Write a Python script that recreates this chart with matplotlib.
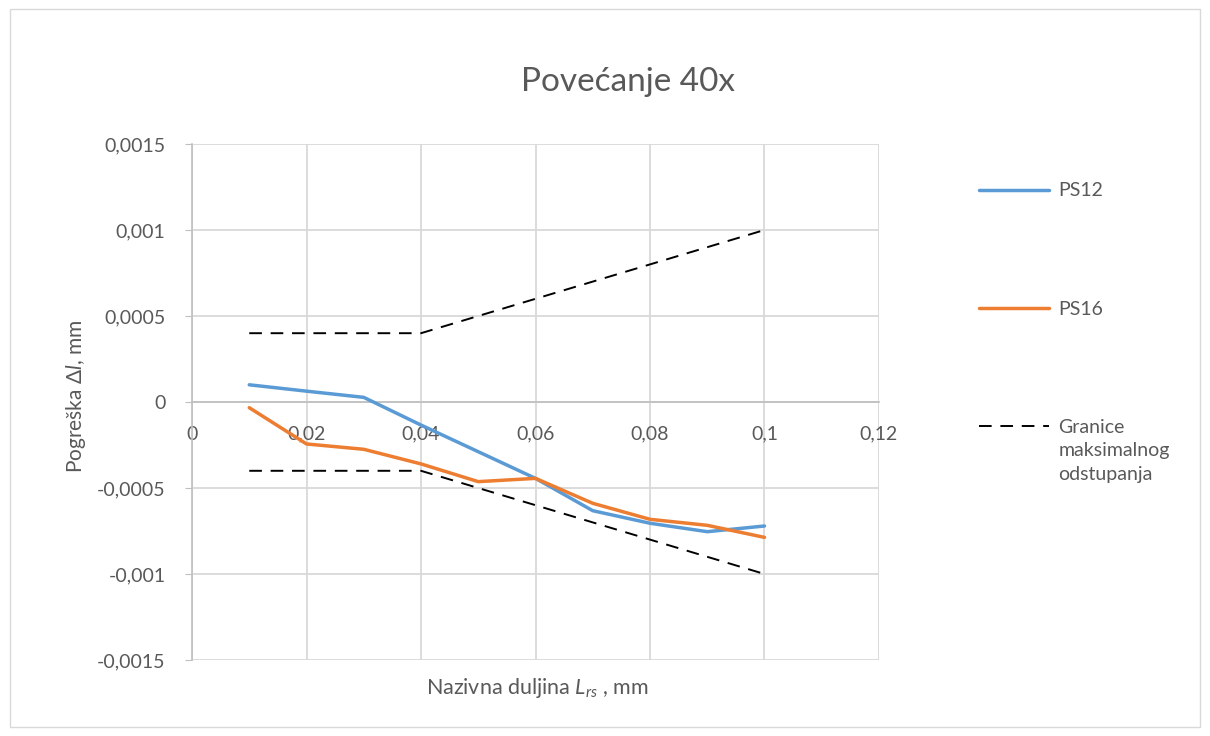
import matplotlib
matplotlib.use("Agg")
import matplotlib.pyplot as plt
from matplotlib.ticker import FuncFormatter, MultipleLocator
from matplotlib.patches import Rectangle

# ---- data ----
x_vals = [0.01, 0.02, 0.03, 0.04, 0.05, 0.06, 0.07, 0.08, 0.09, 0.1]
ps12 = [0.0001, 0.000063, 0.000027, -0.000134, -0.000289, -0.000444, -0.000632, -0.000705, -0.000754, -0.000721]
ps16 = [-0.000033, -0.000244, -0.000275, -0.00036, -0.000463, -0.000444, -0.000589, -0.000682, -0.000717, -0.000787]
limit_upper = [0.0004, 0.0004, 0.0004, 0.0004, 0.0005, 0.0006, 0.0007, 0.0008, 0.0009, 0.001]
limit_lower = [-0.0004, -0.0004, -0.0004, -0.0004, -0.0005, -0.0006, -0.0007, -0.0008, -0.0009, -0.001]
title = "Povećanje 40x"
labels = ["PS12", "PS16", "Granice", "maksimalnog\nodstupanja"]

plt.rcParams['font.family'] = ['Lato', 'DejaVu Sans']
plt.rcParams['mathtext.fontset'] = 'custom'
plt.rcParams['mathtext.it'] = 'Lato:italic'
plt.rcParams['mathtext.rm'] = 'Lato'

TXT = '#595959'
GRID = '#D9D9D9'
FS = 14

fig = plt.figure(figsize=(12.1, 7.36), dpi=100)
fig.patches.append(Rectangle((0.008, 0.012), 0.984, 0.976, transform=fig.transFigure,
                             fill=False, edgecolor='#D9D9D9', lw=1))
ax = fig.add_axes([192/1210, 1-660/736, (879-192)/1210, (660-144)/736])

l1, = ax.plot(x_vals, ps12, color='#5B9BD5', lw=2.5, solid_capstyle='round', solid_joinstyle='round', zorder=3)
l2, = ax.plot(x_vals, ps16, color='#ED7D31', lw=2.5, solid_capstyle='round', solid_joinstyle='round', zorder=3)
l3, = ax.plot(x_vals, limit_upper, color='black', lw=1.4, dashes=(6.5, 4.5), zorder=2)
ax.plot(x_vals, limit_lower, color='black', lw=1.4, dashes=(6.5, 4.5), zorder=2)

ax.set_xlim(0, 0.12)
ax.set_ylim(-0.0015, 0.0015)
ax.xaxis.set_major_locator(MultipleLocator(0.02))
ax.yaxis.set_major_locator(MultipleLocator(0.0005))

def fmt(v, pos):
    if abs(v) < 1e-12:
        return "0"
    s = ("%.4f" % v).rstrip('0').rstrip('.')
    return s.replace('.', ',')

ax.xaxis.set_major_formatter(FuncFormatter(fmt))
ax.yaxis.set_major_formatter(FuncFormatter(fmt))

ax.grid(True, color=GRID, lw=1.3)
ax.set_axisbelow(True)
for s in ['top', 'right']:
    ax.spines[s].set_visible(False)
ax.spines['left'].set_color('#BFBFBF')
ax.spines['left'].set_linewidth(1.2)
ax.spines['bottom'].set_position(('data', 0))
ax.spines['bottom'].set_color('#BFBFBF')
ax.spines['bottom'].set_linewidth(1.2)
ax.tick_params(axis='x', length=0, pad=17, labelsize=FS, labelcolor=TXT)
ax.tick_params(axis='y', length=5, color='#BFBFBF', pad=14, labelsize=FS, labelcolor=TXT)

fig.text(628/1210, 1-82/736, title, ha='center', va='center', fontsize=24, color=TXT)
fig.text(76/1210, 1-396/736, r'Pogreška $\mathit{Δl}$, mm', rotation=90, ha='center', va='center',
         fontsize=15, color=TXT)
fig.text(537/1210, 1-688/736, r'Nazivna duljina $\mathit{L_{rs}}$ , mm', ha='center', va='center',
         fontsize=15.5, color=TXT)

leg = fig.legend([l1, l2, l3], labels[:3], loc='upper left',
                 bbox_to_anchor=(961/1210, 1-165/736), frameon=False, fontsize=FS,
                 labelspacing=5.2, handlelength=3.65, handletextpad=0.45, labelcolor=TXT)

fig.canvas.draw()
t = leg.get_texts()[2]
bb = t.get_window_extent().transformed(fig.transFigure.inverted())
fig.text(bb.x0, bb.y0 - 0.009, labels[3], ha='left', va='top', fontsize=FS, color=TXT,
         linespacing=1.45)

fig.savefig('out.png', dpi=100)
